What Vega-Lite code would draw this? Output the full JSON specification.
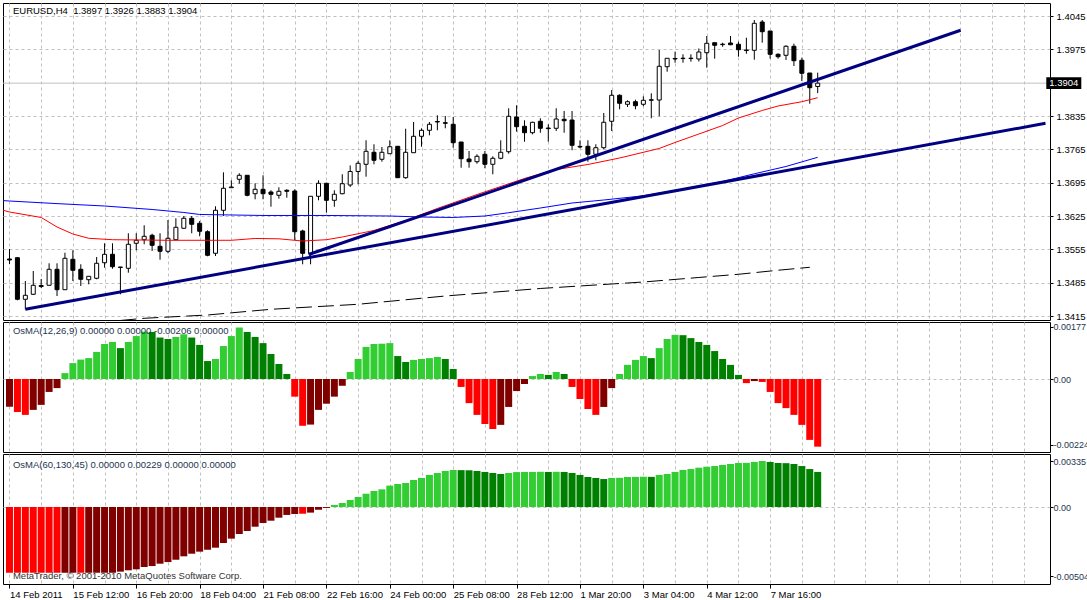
{
  "$schema": "https://vega.github.io/schema/vega-lite/v6.json",
  "background": "white",
  "padding": {"left": 2, "top": 2, "right": -1, "bottom": 0},
  "spacing": 2,
  "bounds": "flush",
  "config": {
    "view": {"stroke": "black", "strokeWidth": 1},
    "axis": {"labelFont": "Liberation Sans", "labelFontSize": 9.5, "labelColor": "black", "tickColor": "black", "gridColor": "#c0c0c0", "gridDash": [3, 3], "domain": false},
    "text": {"font": "Liberation Sans", "fontSize": 9.5}
  },
  "datasets": {
    "bid": [{"p": 1.3904}],
    "candles": [
      {"k":0,"o":1.35347,"h":1.35557,"l":1.35242,"c":1.35326},
      {"k":1,"o":1.35374,"h":1.35389,"l":1.3448,"c":1.34501},
      {"k":2,"o":1.34501,"h":1.34885,"l":1.34291,"c":1.34585},
      {"k":3,"o":1.34606,"h":1.35095,"l":1.34591,"c":1.34795},
      {"k":4,"o":1.34791,"h":1.34927,"l":1.34738,"c":1.3477},
      {"k":5,"o":1.34795,"h":1.35257,"l":1.34795,"c":1.35131},
      {"k":6,"o":1.35131,"h":1.35257,"l":1.3457,"c":1.34702},
      {"k":7,"o":1.34702,"h":1.35479,"l":1.34702,"c":1.35362},
      {"k":8,"o":1.35341,"h":1.3553,"l":1.34885,"c":1.3511},
      {"k":9,"o":1.35131,"h":1.35236,"l":1.3478,"c":1.34921},
      {"k":10,"o":1.34912,"h":1.34984,"l":1.34816,"c":1.34984},
      {"k":11,"o":1.34942,"h":1.35389,"l":1.34921,"c":1.35257},
      {"k":12,"o":1.35269,"h":1.35677,"l":1.35164,"c":1.35446},
      {"k":13,"o":1.35446,"h":1.35677,"l":1.35143,"c":1.35185},
      {"k":14,"o":1.3517,"h":1.35179,"l":1.34606,"c":1.35179},
      {"k":15,"o":1.35152,"h":1.35887,"l":1.35059,"c":1.35656},
      {"k":16,"o":1.35677,"h":1.35887,"l":1.3553,"c":1.3574},
      {"k":17,"o":1.35752,"h":1.36055,"l":1.35656,"c":1.35824},
      {"k":18,"o":1.35845,"h":1.35878,"l":1.35515,"c":1.35635},
      {"k":19,"o":1.35614,"h":1.35887,"l":1.35332,"c":1.35509},
      {"k":20,"o":1.35509,"h":1.36166,"l":1.35467,"c":1.35782},
      {"k":21,"o":1.35752,"h":1.36202,"l":1.35752,"c":1.36013},
      {"k":22,"o":1.35992,"h":1.3625,"l":1.35983,"c":1.36202},
      {"k":23,"o":1.36202,"h":1.3625,"l":1.35887,"c":1.36076},
      {"k":24,"o":1.36097,"h":1.36145,"l":1.35824,"c":1.35929},
      {"k":25,"o":1.3592,"h":1.3595,"l":1.35404,"c":1.35425},
      {"k":26,"o":1.35467,"h":1.36454,"l":1.3541,"c":1.3637},
      {"k":27,"o":1.3637,"h":1.37168,"l":1.3625,"c":1.36832},
      {"k":28,"o":1.36844,"h":1.37,"l":1.36844,"c":1.36859},
      {"k":29,"o":1.37021,"h":1.37147,"l":1.36928,"c":1.37105},
      {"k":30,"o":1.37105,"h":1.37105,"l":1.36664,"c":1.36685},
      {"k":31,"o":1.36718,"h":1.36937,"l":1.36601,"c":1.36811},
      {"k":32,"o":1.36811,"h":1.37105,"l":1.36601,"c":1.36718},
      {"k":33,"o":1.36754,"h":1.3679,"l":1.36445,"c":1.36706},
      {"k":34,"o":1.36685,"h":1.36853,"l":1.36613,"c":1.36769},
      {"k":35,"o":1.3679,"h":1.36811,"l":1.36634,"c":1.36769},
      {"k":36,"o":1.36775,"h":1.36811,"l":1.3574,"c":1.3592},
      {"k":37,"o":1.35935,"h":1.35962,"l":1.35236,"c":1.35467},
      {"k":38,"o":1.35467,"h":1.36664,"l":1.35236,"c":1.36664},
      {"k":39,"o":1.36664,"h":1.37,"l":1.3658,"c":1.36937},
      {"k":40,"o":1.36937,"h":1.36949,"l":1.36319,"c":1.3658},
      {"k":41,"o":1.3658,"h":1.3679,"l":1.36445,"c":1.36706},
      {"k":42,"o":1.36718,"h":1.37126,"l":1.36706,"c":1.36928},
      {"k":43,"o":1.36901,"h":1.37311,"l":1.36859,"c":1.37185},
      {"k":44,"o":1.37185,"h":1.37405,"l":1.36916,"c":1.37357},
      {"k":45,"o":1.37336,"h":1.3784,"l":1.37075,"c":1.37609},
      {"k":46,"o":1.37588,"h":1.37756,"l":1.37336,"c":1.3742},
      {"k":47,"o":1.37441,"h":1.37699,"l":1.3739,"c":1.37588},
      {"k":48,"o":1.37558,"h":1.3784,"l":1.37558,"c":1.37705},
      {"k":49,"o":1.37714,"h":1.3772,"l":1.37048,"c":1.37054},
      {"k":50,"o":1.37054,"h":1.38083,"l":1.37033,"c":1.37588},
      {"k":51,"o":1.37579,"h":1.38224,"l":1.37579,"c":1.37924},
      {"k":52,"o":1.37924,"h":1.38092,"l":1.37705,"c":1.3805},
      {"k":53,"o":1.3805,"h":1.38224,"l":1.37945,"c":1.38176},
      {"k":54,"o":1.38235,"h":1.38365,"l":1.3805,"c":1.38224},
      {"k":55,"o":1.38209,"h":1.3835,"l":1.38092,"c":1.38197},
      {"k":56,"o":1.38176,"h":1.38329,"l":1.37684,"c":1.37789},
      {"k":57,"o":1.37804,"h":1.37804,"l":1.37264,"c":1.37453},
      {"k":58,"o":1.37447,"h":1.37615,"l":1.37264,"c":1.3739},
      {"k":59,"o":1.3739,"h":1.37546,"l":1.37348,"c":1.37504},
      {"k":60,"o":1.37546,"h":1.37615,"l":1.37252,"c":1.37336},
      {"k":61,"o":1.37336,"h":1.37504,"l":1.37126,"c":1.37462},
      {"k":62,"o":1.37462,"h":1.3784,"l":1.37441,"c":1.37588},
      {"k":63,"o":1.376,"h":1.38512,"l":1.37558,"c":1.38344},
      {"k":64,"o":1.38329,"h":1.38575,"l":1.3802,"c":1.38125},
      {"k":65,"o":1.38134,"h":1.3826,"l":1.3781,"c":1.37999},
      {"k":66,"o":1.37999,"h":1.3823,"l":1.37966,"c":1.38218},
      {"k":67,"o":1.38239,"h":1.38302,"l":1.37999,"c":1.38092},
      {"k":68,"o":1.38098,"h":1.38176,"l":1.3781,"c":1.38085},
      {"k":69,"o":1.38092,"h":1.38512,"l":1.38035,"c":1.38287},
      {"k":70,"o":1.38281,"h":1.38455,"l":1.37999,"c":1.38251},
      {"k":71,"o":1.38266,"h":1.38455,"l":1.3763,"c":1.37735},
      {"k":72,"o":1.37712,"h":1.3784,"l":1.37672,"c":1.37699},
      {"k":73,"o":1.37714,"h":1.3784,"l":1.3739,"c":1.37546},
      {"k":74,"o":1.37546,"h":1.37756,"l":1.3742,"c":1.37684},
      {"k":75,"o":1.37684,"h":1.38413,"l":1.37651,"c":1.38218},
      {"k":76,"o":1.38239,"h":1.38896,"l":1.38035,"c":1.38785},
      {"k":77,"o":1.38785,"h":1.38806,"l":1.38491,"c":1.38617},
      {"k":78,"o":1.38596,"h":1.3868,"l":1.38539,"c":1.3865},
      {"k":79,"o":1.3865,"h":1.38692,"l":1.38491,"c":1.38566},
      {"k":80,"o":1.38596,"h":1.38764,"l":1.38554,"c":1.3868},
      {"k":81,"o":1.3868,"h":1.38827,"l":1.38302,"c":1.38692},
      {"k":82,"o":1.38686,"h":1.39736,"l":1.38344,"c":1.39394},
      {"k":83,"o":1.39385,"h":1.39562,"l":1.3928,"c":1.39562},
      {"k":84,"o":1.39558,"h":1.397,"l":1.39469,"c":1.39547},
      {"k":85,"o":1.39564,"h":1.39646,"l":1.39469,"c":1.39556},
      {"k":86,"o":1.39556,"h":1.39646,"l":1.3949,"c":1.39564},
      {"k":87,"o":1.39547,"h":1.39768,"l":1.39494,"c":1.39694},
      {"k":88,"o":1.39679,"h":1.4003,"l":1.39364,"c":1.39877},
      {"k":89,"o":1.39889,"h":1.39889,"l":1.39553,"c":1.39835},
      {"k":90,"o":1.39849,"h":1.39889,"l":1.39805,"c":1.39858},
      {"k":91,"o":1.39883,"h":1.4003,"l":1.39835,"c":1.39847},
      {"k":92,"o":1.39856,"h":1.3991,"l":1.39595,"c":1.39742},
      {"k":93,"o":1.39736,"h":1.39994,"l":1.39658,"c":1.39726},
      {"k":94,"o":1.3973,"h":1.40366,"l":1.39532,"c":1.40297},
      {"k":95,"o":1.40324,"h":1.40366,"l":1.39889,"c":1.4012},
      {"k":96,"o":1.40135,"h":1.40135,"l":1.39553,"c":1.39646},
      {"k":97,"o":1.39646,"h":1.39667,"l":1.39553,"c":1.39595},
      {"k":98,"o":1.39625,"h":1.39835,"l":1.39526,"c":1.39814},
      {"k":99,"o":1.39814,"h":1.39868,"l":1.394,"c":1.39511},
      {"k":100,"o":1.3952,"h":1.39574,"l":1.39085,"c":1.39247},
      {"k":101,"o":1.39253,"h":1.39253,"l":1.38608,"c":1.38944},
      {"k":102,"o":1.3897,"h":1.3926,"l":1.3883,"c":1.3904}
    ],
    "maBlue": [
      {"k":-1,"p":1.36575},{"k":0,"p":1.36565},{"k":6,"p":1.3651},{"k":12,"p":1.3646},{"k":18,"p":1.36387},{"k":22,"p":1.36324},{"k":24,"p":1.36282},{"k":32,"p":1.36261},{"k":40,"p":1.36261},{"k":48,"p":1.3625},{"k":52,"p":1.36229},{"k":56,"p":1.36219},{"k":60,"p":1.3625},{"k":63,"p":1.36319},{"k":67,"p":1.36418},{"k":71,"p":1.36523},{"k":75,"p":1.36586},{"k":80,"p":1.36674},{"k":85,"p":1.36817},{"k":90,"p":1.36975},{"k":94,"p":1.37136},{"k":98,"p":1.3729},{"k":102,"p":1.37483}
    ],
    "maRed": [
      {"k":-1,"p":1.3638},{"k":0,"p":1.36334},{"k":4,"p":1.36219},{"k":6,"p":1.36019},{"k":8,"p":1.35872},{"k":10,"p":1.35782},{"k":13,"p":1.35752},{"k":20,"p":1.3574},{"k":28,"p":1.3574},{"k":31,"p":1.35778},{"k":34,"p":1.35771},{"k":36,"p":1.3574},{"k":37,"p":1.35725},{"k":40,"p":1.35752},{"k":42,"p":1.35809},{"k":46,"p":1.35946},{"k":50,"p":1.36156},{"k":54,"p":1.36408},{"k":59,"p":1.36701},{"k":65,"p":1.37038},{"k":69,"p":1.37226},{"k":73,"p":1.37332},{"k":77,"p":1.37468},{"k":82,"p":1.37668},{"k":84,"p":1.37794},{"k":87,"p":1.37972},{"k":90,"p":1.3815},{"k":92,"p":1.38308},{"k":95,"p":1.38466},{"k":97,"p":1.3856},{"k":100,"p":1.3865},{"k":102,"p":1.38734}
    ],
    "maDash": [
      {"k":14,"p":1.34056},{"k":17,"p":1.34102},{"k":25,"p":1.34171},{"k":33,"p":1.34291},{"k":44,"p":1.34396},{"k":55,"p":1.3457},{"k":67,"p":1.34728},{"k":80,"p":1.34864},{"k":87,"p":1.34959},{"k":92,"p":1.35026},{"k":97,"p":1.35111},{"k":101,"p":1.35173}
    ],
    "trend": [
      {"id":"low","k":2,"p":1.34291},{"id":"low","k":130.75,"p":1.38197},
      {"id":"steep","k":37.75,"p":1.35442},{"id":"steep","k":120.04,"p":1.4015}
    ],
    "osma1": [
      {"k":0,"v":-0.00094,"s":"nu"},{"k":1,"v":-0.00112,"s":"nd"},{"k":2,"v":-0.00122,"s":"nd"},{"k":3,"v":-0.00105,"s":"nu"},{"k":4,"v":-0.00088,"s":"nu"},{"k":5,"v":-0.00044,"s":"nu"},{"k":6,"v":-0.00031,"s":"nu"},{"k":7,"v":0.0002,"s":"pu"},{"k":8,"v":0.00054,"s":"pu"},{"k":9,"v":0.00066,"s":"pu"},
      {"k":10,"v":0.00071,"s":"pu"},{"k":11,"v":0.00092,"s":"pu"},{"k":12,"v":0.00119,"s":"pu"},{"k":13,"v":0.00126,"s":"pu"},{"k":14,"v":0.00105,"s":"pd"},{"k":15,"v":0.00126,"s":"pu"},{"k":16,"v":0.00146,"s":"pu"},{"k":17,"v":0.00161,"s":"pu"},{"k":18,"v":0.0016,"s":"pd"},{"k":19,"v":0.00141,"s":"pd"},
      {"k":20,"v":0.00136,"s":"pd"},{"k":21,"v":0.00143,"s":"pu"},{"k":22,"v":0.00152,"s":"pu"},{"k":23,"v":0.00141,"s":"pd"},{"k":24,"v":0.00116,"s":"pd"},{"k":25,"v":0.00061,"s":"pd"},{"k":26,"v":0.00068,"s":"pu"},{"k":27,"v":0.00112,"s":"pu"},{"k":28,"v":0.00146,"s":"pu"},{"k":29,"v":0.00175,"s":"pu"},
      {"k":30,"v":0.0016,"s":"pd"},{"k":31,"v":0.00143,"s":"pd"},{"k":32,"v":0.00122,"s":"pd"},{"k":33,"v":0.00085,"s":"pd"},{"k":34,"v":0.00051,"s":"pd"},{"k":35,"v":0.00017,"s":"pd"},{"k":36,"v":-0.0006,"s":"nd"},{"k":37,"v":-0.00159,"s":"nd"},{"k":38,"v":-0.00155,"s":"nu"},{"k":39,"v":-0.00105,"s":"nu"},
      {"k":40,"v":-0.00084,"s":"nu"},{"k":41,"v":-0.0006,"s":"nu"},{"k":42,"v":-0.00023,"s":"nu"},{"k":43,"v":0.00024,"s":"pu"},{"k":44,"v":0.00068,"s":"pu"},{"k":45,"v":0.00109,"s":"pu"},{"k":46,"v":0.00119,"s":"pu"},{"k":47,"v":0.0012,"s":"pu"},{"k":48,"v":0.00122,"s":"pu"},{"k":49,"v":0.00078,"s":"pd"},
      {"k":50,"v":0.00058,"s":"pd"},{"k":51,"v":0.00065,"s":"pu"},{"k":52,"v":0.00068,"s":"pu"},{"k":53,"v":0.00071,"s":"pu"},{"k":54,"v":0.00075,"s":"pu"},{"k":55,"v":0.00068,"s":"pd"},{"k":56,"v":0.00034,"s":"pd"},{"k":57,"v":-0.00027,"s":"nd"},{"k":58,"v":-0.00082,"s":"nd"},{"k":59,"v":-0.00122,"s":"nd"},
      {"k":60,"v":-0.00153,"s":"nd"},{"k":61,"v":-0.0017,"s":"nd"},{"k":62,"v":-0.00156,"s":"nu"},{"k":63,"v":-0.00095,"s":"nu"},{"k":64,"v":-0.00041,"s":"nu"},{"k":65,"v":-0.00017,"s":"nu"},{"k":66,"v":0.0001,"s":"pu"},{"k":67,"v":0.00017,"s":"pu"},{"k":68,"v":0.00014,"s":"pd"},{"k":69,"v":0.00024,"s":"pu"},
      {"k":70,"v":0.00017,"s":"pd"},{"k":71,"v":-0.00027,"s":"nd"},{"k":72,"v":-0.00068,"s":"nd"},{"k":73,"v":-0.00102,"s":"nd"},{"k":74,"v":-0.00122,"s":"nd"},{"k":75,"v":-0.00095,"s":"nu"},{"k":76,"v":-0.00031,"s":"nu"},{"k":77,"v":0.00017,"s":"pu"},{"k":78,"v":0.00048,"s":"pu"},{"k":79,"v":0.00065,"s":"pu"},
      {"k":80,"v":0.00078,"s":"pu"},{"k":81,"v":0.00071,"s":"pd"},{"k":82,"v":0.00105,"s":"pu"},{"k":83,"v":0.00136,"s":"pu"},{"k":84,"v":0.0015,"s":"pu"},{"k":85,"v":0.00149,"s":"pd"},{"k":86,"v":0.00139,"s":"pd"},{"k":87,"v":0.00126,"s":"pd"},{"k":88,"v":0.00116,"s":"pd"},{"k":89,"v":0.00095,"s":"pd"},
      {"k":90,"v":0.00068,"s":"pd"},{"k":91,"v":0.00048,"s":"pd"},{"k":92,"v":0.00014,"s":"pd"},{"k":93,"v":-0.00014,"s":"nd"},{"k":94,"v":-0.00007,"s":"nu"},{"k":95,"v":-0.0001,"s":"nd"},{"k":96,"v":-0.00044,"s":"nd"},{"k":97,"v":-0.00082,"s":"nd"},{"k":98,"v":-0.00099,"s":"nd"},{"k":99,"v":-0.00122,"s":"nd"},
      {"k":100,"v":-0.00156,"s":"nd"},{"k":101,"v":-0.00207,"s":"nd"},{"k":102,"v":-0.0023,"s":"nd"}
    ],
    "osma2": [
      {"k":0,"v":-0.0048,"s":"nd"},{"k":1,"v":-0.0048,"s":"nd"},{"k":2,"v":-0.0048,"s":"nd"},{"k":3,"v":-0.0048,"s":"nd"},{"k":4,"v":-0.0048,"s":"nd"},{"k":5,"v":-0.0048,"s":"nd"},{"k":6,"v":-0.0048,"s":"nd"},{"k":7,"v":-0.0048,"s":"nu"},{"k":8,"v":-0.0048,"s":"nu"},{"k":9,"v":-0.0048,"s":"nd"},
      {"k":10,"v":-0.0048,"s":"nu"},{"k":11,"v":-0.0048,"s":"nu"},{"k":12,"v":-0.0048,"s":"nu"},{"k":13,"v":-0.0048,"s":"nu"},{"k":14,"v":-0.00472,"s":"nu"},{"k":15,"v":-0.00462,"s":"nu"},{"k":16,"v":-0.00455,"s":"nu"},{"k":17,"v":-0.00438,"s":"nu"},{"k":18,"v":-0.00431,"s":"nu"},{"k":19,"v":-0.00414,"s":"nu"},
      {"k":20,"v":-0.00402,"s":"nu"},{"k":21,"v":-0.00385,"s":"nu"},{"k":22,"v":-0.0036,"s":"nu"},{"k":23,"v":-0.00341,"s":"nu"},{"k":24,"v":-0.00326,"s":"nu"},{"k":25,"v":-0.00312,"s":"nu"},{"k":26,"v":-0.00297,"s":"nu"},{"k":27,"v":-0.00263,"s":"nu"},{"k":28,"v":-0.00231,"s":"nu"},{"k":29,"v":-0.00197,"s":"nu"},
      {"k":30,"v":-0.00175,"s":"nu"},{"k":31,"v":-0.00144,"s":"nu"},{"k":32,"v":-0.00117,"s":"nu"},{"k":33,"v":-0.001,"s":"nu"},{"k":34,"v":-0.00078,"s":"nu"},{"k":35,"v":-0.00058,"s":"nu"},{"k":36,"v":-0.00051,"s":"nu"},{"k":37,"v":-0.00049,"s":"nd"},{"k":38,"v":-0.00041,"s":"nu"},{"k":39,"v":-0.0002,"s":"nu"},
      {"k":40,"v":-0.00007,"s":"nu"},{"k":41,"v":0.00015,"s":"pu"},{"k":42,"v":0.00029,"s":"pu"},{"k":43,"v":0.00051,"s":"pu"},{"k":44,"v":0.00073,"s":"pu"},{"k":45,"v":0.00097,"s":"pu"},{"k":46,"v":0.00117,"s":"pu"},{"k":47,"v":0.00129,"s":"pu"},{"k":48,"v":0.00156,"s":"pu"},{"k":49,"v":0.00168,"s":"pu"},
      {"k":50,"v":0.00175,"s":"pu"},{"k":51,"v":0.00197,"s":"pu"},{"k":52,"v":0.00212,"s":"pu"},{"k":53,"v":0.00234,"s":"pu"},{"k":54,"v":0.00248,"s":"pu"},{"k":55,"v":0.00263,"s":"pu"},{"k":56,"v":0.0027,"s":"pu"},{"k":57,"v":0.00269,"s":"pd"},{"k":58,"v":0.00268,"s":"pd"},{"k":59,"v":0.00263,"s":"pd"},
      {"k":60,"v":0.00256,"s":"pd"},{"k":61,"v":0.00248,"s":"pd"},{"k":62,"v":0.00241,"s":"pd"},{"k":63,"v":0.00248,"s":"pu"},{"k":64,"v":0.00255,"s":"pu"},{"k":65,"v":0.00256,"s":"pu"},{"k":66,"v":0.00256,"s":"pu"},{"k":67,"v":0.00257,"s":"pu"},{"k":68,"v":0.00256,"s":"pd"},{"k":69,"v":0.00257,"s":"pu"},
      {"k":70,"v":0.00256,"s":"pd"},{"k":71,"v":0.00248,"s":"pd"},{"k":72,"v":0.00234,"s":"pd"},{"k":73,"v":0.00219,"s":"pd"},{"k":74,"v":0.00212,"s":"pd"},{"k":75,"v":0.00204,"s":"pd"},{"k":76,"v":0.00212,"s":"pu"},{"k":77,"v":0.00213,"s":"pu"},{"k":78,"v":0.00219,"s":"pu"},{"k":79,"v":0.0022,"s":"pu"},
      {"k":80,"v":0.00221,"s":"pu"},{"k":81,"v":0.0022,"s":"pd"},{"k":82,"v":0.00234,"s":"pu"},{"k":83,"v":0.00241,"s":"pu"},{"k":84,"v":0.00256,"s":"pu"},{"k":85,"v":0.0027,"s":"pu"},{"k":86,"v":0.00277,"s":"pu"},{"k":87,"v":0.00287,"s":"pu"},{"k":88,"v":0.00294,"s":"pu"},{"k":89,"v":0.00299,"s":"pu"},
      {"k":90,"v":0.00307,"s":"pu"},{"k":91,"v":0.00314,"s":"pu"},{"k":92,"v":0.00321,"s":"pu"},{"k":93,"v":0.00322,"s":"pu"},{"k":94,"v":0.00329,"s":"pu"},{"k":95,"v":0.00336,"s":"pu"},{"k":96,"v":0.00329,"s":"pd"},{"k":97,"v":0.00321,"s":"pd"},{"k":98,"v":0.0032,"s":"pd"},{"k":99,"v":0.00314,"s":"pd"},
      {"k":100,"v":0.00299,"s":"pd"},{"k":101,"v":0.00277,"s":"pd"},{"k":102,"v":0.00256,"s":"pd"}
    ]
  },
  "vconcat": [
    {
      "width": 1047,
      "height": 317,
      "encoding": {
        "x": {"type": "quantitative", "title": null, "scale": {"domain": [-0.1875, 130.6875], "nice": false, "zero": false},
          "axis": {"title": null, "values": [0,4,8,12,16,20,24,28,32,36,40,44,48,52,56,60,64,68,72,76,80,84,88,92,96,100,104,108,112,116,120,124,128],
            "grid": true, "gridColor": "#c0c0c0", "gridDash": [3, 3], "labels": false, "ticks": false, "domain": false}},
        "y": {"type": "quantitative", "title": null, "scale": {"domain": [1.34066, 1.40723], "nice": false, "zero": false},
          "axis": {"orient": "right", "title": null, "values": [1.4045, 1.3975, 1.3835, 1.3765, 1.3695, 1.3625, 1.3555, 1.3485, 1.3415],
            "grid": true, "gridColor": "#c0c0c0", "gridDash": [3, 3], "ticks": true, "tickSize": 3, "labelPadding": 3,
            "format": ".4f", "labelBaseline": "middle", "labelFlush": false, "labelOverlap": false, "labelBound": false}}
      },
      "layer": [
        {
          "data": {"name": "bid"},
          "mark": {"type": "rule", "color": "#c0c0c0", "strokeWidth": 1},
          "encoding": {"x": null, "y": {"field": "p"}}
        },
        {
          "data": {"name": "candles"},
          "mark": {"type": "rule", "color": "black", "strokeWidth": 1, "clip": true},
          "encoding": {"x": {"field": "k"}, "y": {"field": "l"}, "y2": {"field": "h"}}
        },
        {
          "data": {"name": "candles"},
          "mark": {"type": "bar", "size": 4, "stroke": "black", "strokeWidth": 1, "clip": true},
          "encoding": {
            "x": {"field": "k"}, "y": {"field": "o"}, "y2": {"field": "c"},
            "fill": {"condition": {"test": "datum.c >= datum.o", "value": "white"}, "value": "black"}
          }
        },
        {
          "data": {"name": "maDash"},
          "mark": {"type": "line", "color": "black", "strokeWidth": 1, "strokeDash": [16, 6], "clip": true},
          "encoding": {"x": {"field": "k"}, "y": {"field": "p"}}
        },
        {
          "data": {"name": "maBlue"},
          "mark": {"type": "line", "color": "#0000ff", "strokeWidth": 1, "clip": true},
          "encoding": {"x": {"field": "k"}, "y": {"field": "p"}}
        },
        {
          "data": {"name": "maRed"},
          "mark": {"type": "line", "color": "#ff0000", "strokeWidth": 1, "clip": true},
          "encoding": {"x": {"field": "k"}, "y": {"field": "p"}}
        },
        {
          "data": {"name": "trend"},
          "mark": {"type": "line", "color": "#000080", "strokeWidth": 3, "clip": true},
          "encoding": {"x": {"field": "k"}, "y": {"field": "p"}, "detail": {"field": "id"}}
        },
        {
          "data": {"values": [{}]},
          "mark": {"type": "text", "text": "EURUSD,H4\u00a0 1.3897 1.3926 1.3883 1.3904", "align": "left", "baseline": "middle", "color": "black"},
          "encoding": {"x": {"datum": 0.4375}, "y": {"datum": 1.40545}}
        },
        {
          "data": {"name": "bid"},
          "mark": {"type": "point", "shape": "M-1,-0.33H1V0.33H-1Z", "size": 1225, "filled": true, "color": "black", "opacity": 1, "strokeWidth": 0},
          "encoding": {"x": {"datum": 133.06}, "y": {"field": "p"}}
        },
        {
          "data": {"name": "bid"},
          "mark": {"type": "text", "align": "center", "baseline": "middle", "color": "white"},
          "encoding": {"x": {"datum": 133.06}, "y": {"field": "p"}, "text": {"field": "p", "type": "quantitative", "format": ".4f"}}
        }
      ]
    },
    {
      "width": 1047,
      "height": 130,
      "encoding": {
        "x": {"type": "quantitative", "title": null, "scale": {"domain": [-0.1875, 130.6875], "nice": false, "zero": false},
          "axis": {"title": null, "values": [0,4,8,12,16,20,24,28,32,36,40,44,48,52,56,60,64,68,72,76,80,84,88,92,96,100,104,108,112,116,120,124,128],
            "grid": true, "gridColor": "#c0c0c0", "gridDash": [3, 3], "labels": false, "ticks": false, "domain": false}},
        "y": {"type": "quantitative", "title": null, "scale": {"domain": [-0.002482, 0.001938], "nice": false, "zero": false},
          "axis": {"orient": "right", "title": null, "values": [0.00177, 0, -0.00224],
            "grid": true, "gridColor": "#c0c0c0", "gridDash": [3, 3],
            "gridOpacity": {"condition": {"test": "datum.value === 0", "value": 1}, "value": 0},
            "ticks": true, "tickSize": 3, "labelPadding": 0, "labelColor": "#1e3550", "labelFontSize": 9,
            "labelExpr": "datum.value === 0 ? '0.00' : (datum.value < 0 ? '-' : '') + format(abs(datum.value), '.5f')",
            "labelBaseline": "middle", "labelFlush": false, "labelOverlap": false, "labelBound": false}}
      },
      "layer": [
        {
          "data": {"name": "osma1"},
          "mark": {"type": "bar", "size": 7, "clip": true},
          "encoding": {
            "x": {"field": "k"}, "y": {"field": "v"}, "y2": {"datum": 0},
            "color": {"field": "s", "type": "nominal", "scale": {"domain": ["pu", "pd", "nd", "nu"], "range": ["#32cd32", "#008000", "#ff0000", "#800000"]}, "legend": null}
          }
        },
        {
          "data": {"values": [{}]},
          "mark": {"type": "text", "text": "OsMA(12,26,9) 0.00000 0.00000 -0.00206 0.00000", "align": "left", "baseline": "middle", "color": "#1e3550"},
          "encoding": {"x": {"datum": 0.4375}, "y": {"datum": 0.001632}}
        }
      ]
    },
    {
      "width": 1047,
      "height": 130,
      "encoding": {
        "x": {"type": "quantitative", "title": null, "scale": {"domain": [-0.1875, 130.6875], "nice": false, "zero": false},
          "axis": {"title": null, "values": [0,4,8,12,16,20,24,28,32,36,40,44,48,52,56,60,64,68,72,76,80,84,88,92,96,100,104,108,112,116,120,124,128],
            "grid": true, "gridColor": "#c0c0c0", "gridDash": [3, 3], "domain": false,
            "ticks": true, "tickSize": 4, "tickColor": "black",
            "tickOpacity": {"condition": {"test": "datum.value % 8 === 0 && datum.value <= 96", "value": 1}, "value": 0},
            "labelExpr": "(datum.value % 8 === 0 && datum.value <= 96) ? ['14 Feb 2011','15 Feb 12:00','16 Feb 20:00','18 Feb 04:00','21 Feb 08:00','22 Feb 16:00','24 Feb 00:00','25 Feb 08:00','28 Feb 12:00','1 Mar 20:00','3 Mar 04:00','4 Mar 12:00','7 Mar 16:00'][datum.value / 8] : ''",
            "labelAlign": "left", "labelBaseline": "top", "labelPadding": 1, "labelFlush": false, "labelOverlap": false, "labelBound": false}},
        "y": {"type": "quantitative", "title": null, "scale": {"domain": [-0.005621, 0.003869], "nice": false, "zero": false},
          "axis": {"orient": "right", "title": null, "values": [0.00335, 0, -0.00504],
            "grid": true, "gridColor": "#c0c0c0", "gridDash": [3, 3],
            "gridOpacity": {"condition": {"test": "datum.value === 0", "value": 1}, "value": 0},
            "ticks": true, "tickSize": 3, "labelPadding": 0, "labelColor": "#1e3550", "labelFontSize": 9,
            "labelExpr": "datum.value === 0 ? '0.00' : (datum.value < 0 ? '-' : '') + format(abs(datum.value), '.5f')",
            "labelBaseline": "middle", "labelFlush": false, "labelOverlap": false, "labelBound": false}}
      },
      "layer": [
        {
          "data": {"name": "osma2"},
          "mark": {"type": "bar", "size": 7, "clip": true},
          "encoding": {
            "x": {"field": "k"}, "y": {"field": "v"}, "y2": {"datum": 0},
            "color": {"field": "s", "type": "nominal", "scale": {"domain": ["pu", "pd", "nd", "nu"], "range": ["#32cd32", "#008000", "#ff0000", "#800000"]}, "legend": null}
          }
        },
        {
          "data": {"values": [{}]},
          "mark": {"type": "text", "text": "OsMA(60,130,45) 0.00000 0.00229 0.00000 0.00000", "align": "left", "baseline": "middle", "color": "#1e3550"},
          "encoding": {"x": {"datum": 0.4375}, "y": {"datum": 0.003066}}
        },
        {
          "data": {"values": [{}]},
          "mark": {"type": "text", "text": "MetaTrader, © 2001-2010 MetaQuotes Software Corp.", "align": "left", "baseline": "middle", "color": "#333333"},
          "encoding": {"x": {"datum": 0.4375}, "y": {"datum": -0.00504}}
        }
      ]
    }
  ]
}
